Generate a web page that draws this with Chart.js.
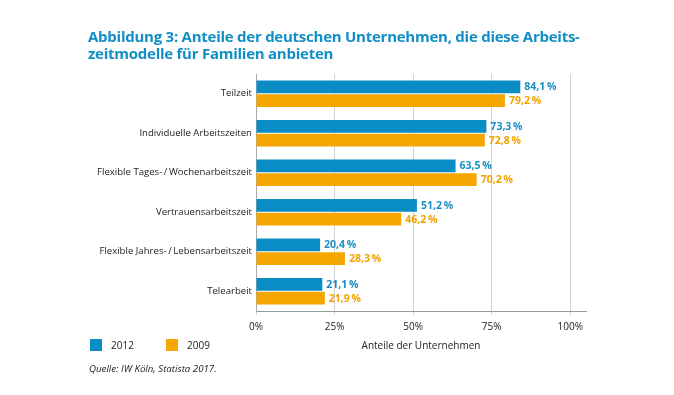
<!DOCTYPE html>
<html>
<head>
<meta charset="utf-8">
<script src="https://cdn.jsdelivr.net/npm/chart.js@4"></script>
<style>
  body { margin: 0; background: #fff; font-family: "Open Sans", sans-serif; }
  #wrap { position: relative; width: 674px; height: 395px; }
  #chart { position: absolute; left: 0; top: 0; }
  .title { position: absolute; left: 88px; top: 28px; color: #118ec5; font-weight: bold; font-size: 15px; line-height: 17px; letter-spacing: -0.25px; }
  .legend { position: absolute; top: 339px; font-size: 10px; color: #222; }
  .legend span.box { position: absolute; left: 0; top: 0; width: 12px; height: 12px; }
  .legend span.txt { position: absolute; left: 21px; top: -1px; white-space: nowrap; }
  .source { position: absolute; left: 89px; top: 362px; font-size: 9.7px; font-style: italic; color: #222; }
</style>
</head>
<body>
<div id="wrap">
  <canvas id="chart" width="674" height="395"></canvas>
  <div class="title">Abbildung 3: Anteile der deutschen Unternehmen, die diese Arbeits-<br>zeitmodelle für Familien anbieten</div>
  <div class="legend" style="left:90px"><span class="box" style="background:#0a8cc4"></span><span class="txt">2012</span></div>
  <div class="legend" style="left:166px"><span class="box" style="background:#f5a600"></span><span class="txt">2009</span></div>
  <div class="source">Quelle: IW Köln, Statista 2017.</div>
</div>
<script>
const categories = [
  "Teilzeit",
  "Individuelle Arbeitszeiten",
  "Flexible Tages-\u2009/\u2009Wochenarbeitszeit",
  "Vertrauensarbeitszeit",
  "Flexible Jahres-\u2009/\u2009Lebensarbeitszeit",
  "Telearbeit"
];
const values2012 = [84.1, 73.3, 63.5, 51.2, 20.4, 21.1];
const values2009 = [79.2, 72.8, 70.2, 46.2, 28.3, 21.9];
const xTicks = [0, 25, 50, 75, 100];

const blue = "#0a8cc4";
const orange = "#f5a600";

const valueLabels = {
  id: "valueLabels",
  afterDatasetsDraw(chart) {
    const ctx = chart.ctx;
    ctx.save();
    ctx.font = "bold 10.5px 'Open Sans'";
    ctx.textBaseline = "middle";
    chart.data.datasets.forEach((ds, i) => {
      const meta = chart.getDatasetMeta(i);
      ctx.fillStyle = i === 0 ? "#1a8ec4" : "#f0a300";
      meta.data.forEach((bar, j) => {
        const txt = ds.data[j].toFixed(1).replace(".", ",") + "\u2009%";
        ctx.fillText(txt, bar.x + 4, bar.y + 0.5);
      });
    });
    ctx.restore();
  }
};

new Chart(document.getElementById("chart"), {
  type: "bar",
  data: {
    labels: categories,
    datasets: [
      { label: "2012", data: values2012, backgroundColor: blue },
      { label: "2009", data: values2009, backgroundColor: orange }
    ]
  },
  options: {
    indexAxis: "y",
    responsive: false,
    animation: false,
    events: [],
    categoryPercentage: 0.7,
    barPercentage: 0.92,
    layout: { padding: { left: 0, top: 74, right: 88, bottom: 43 } },
    plugins: { legend: { display: false }, tooltip: { enabled: false } },
    scales: {
      x: {
        min: 0,
        max: 105,
        afterBuildTicks: s => { s.ticks = xTicks.map(v => ({ value: v })); },
        afterFit: s => { s.height = 41; },
        ticks: {
          callback: v => v + "%",
          color: "#222",
          font: { family: "'Open Sans'", size: 10 },
          padding: 6,
          maxRotation: 0
        },
        grid: { color: "#d2d2d2", lineWidth: 1, tickLength: 4 },
        border: { color: "#999", width: 1 },
        title: {
          display: true,
          text: "Anteile der Unternehmen",
          color: "#222",
          font: { family: "'Open Sans'", size: 10 },
          padding: { top: 0, bottom: 0 }
        }
      },
      y: {
        afterFit: s => { s.width = 256; },
        grid: { display: false, drawTicks: false },
        border: { color: "#aaa", width: 1 },
        ticks: {
          color: "#222",
          font: { family: "'Open Sans'", size: 9.6 },
          padding: 4
        }
      }
    }
  },
  plugins: [valueLabels]
});
</script>
</body>
</html>
